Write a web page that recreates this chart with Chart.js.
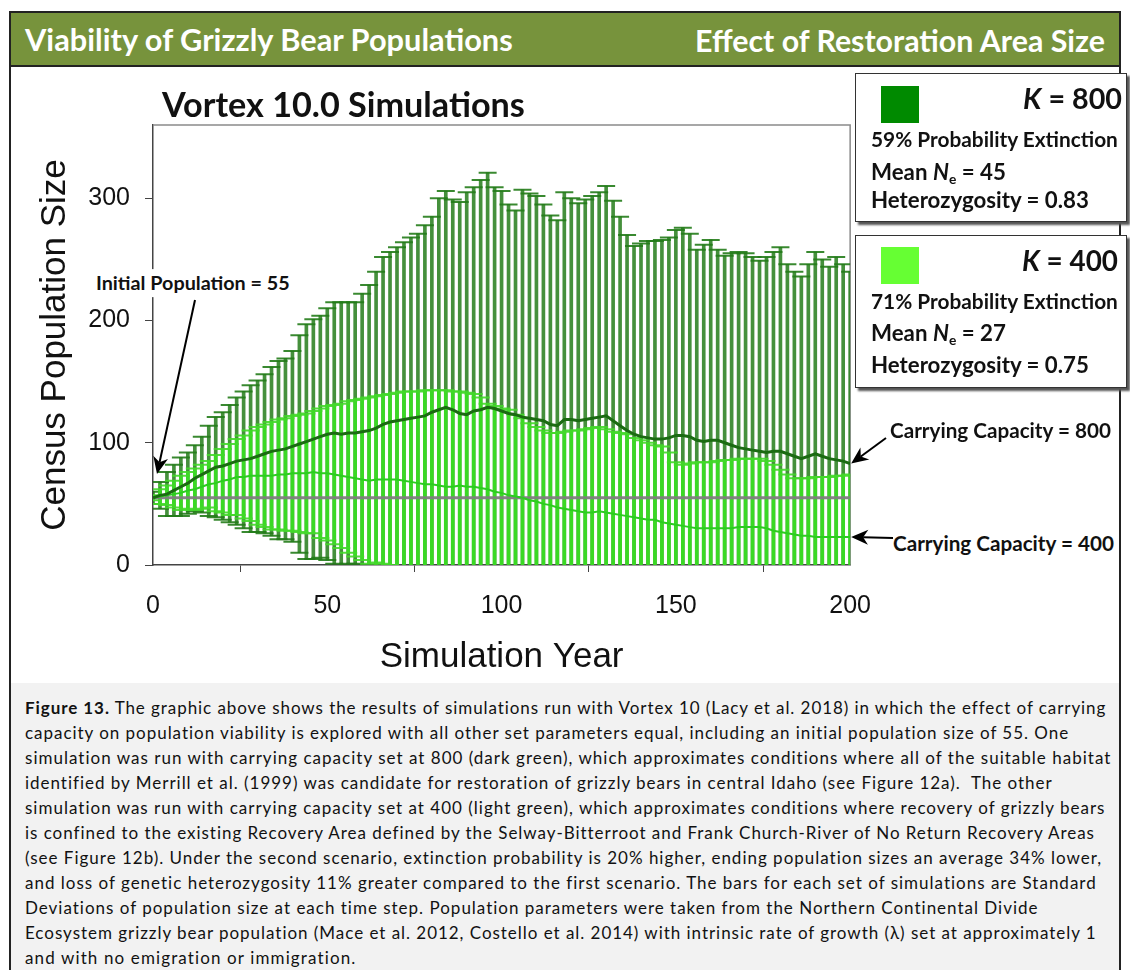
<!DOCTYPE html>
<html lang="en">
<head>
<meta charset="UTF-8">
<title>Viability of Grizzly Bear Populations</title>
<script src="https://cdn.jsdelivr.net/npm/chart.js"></script>
<style>
    body {
        margin: 0;
        width: 1130px;
        height: 970px;
        background: #fff;
        position: relative;
        overflow: hidden;
        font-family: Lato, "Open Sans", sans-serif;
    }
    .frame {
        position: absolute; left: 9px; top: 11px; width: 1112px; height: 980px;
        border: 2px solid #222; box-sizing: border-box;
    }
    .header {
        position: absolute; left: 9px; top: 11px; width: 1112px; height: 56px;
        background: #77933c; border: 2px solid #222; box-sizing: border-box; z-index: 2;
    }
    .caption-bg {
        position: absolute; left: 11px; top: 683px; width: 1108px; height: 290px;
        background: #f2f2f2;
    }
    .t {
        position: absolute; white-space: pre; line-height: 1;
        transform: translateY(-50%); z-index: 5; color: #111;
    }
    .b { font-weight: bold; }
    .white { color: #fff; }
    .cap { font-size: 17px; color: #111; }
    #chartBox {
        position: absolute; left: 0; top: 66px; width: 890px; height: 617px; z-index: 1;
    }
    .legend {
        position: absolute; left: 855px; width: 272px; background: #fff;
        border: 1.5px solid #333; box-sizing: border-box; z-index: 3;
        box-shadow: 3px 3px 2px #555;
    }
    .swatch { position: absolute; width: 38px; height: 37px; z-index: 5; }
    sub { font-size: 0.62em; vertical-align: -0.28em; line-height: 0; }
    #arrows { position: absolute; left: 0; top: 0; z-index: 6; pointer-events: none; }
    .initLabel { background: #fff; padding: 4px 6px; z-index: 4; }
</style>
</head>
<body>

<div class="frame"></div>
<div class="header"></div>
<div class="t b white" data-w="488" style="left:25px; top:40px; font-size:27px; z-index:6;">Viability of Grizzly Bear Populations</div>
<div class="t b white" data-w="410" style="left:695px; top:40px; font-size:27px; z-index:6;">Effect of Restoration Area Size</div>

<div id="chartBox"><canvas id="popChart"></canvas></div>

<div class="t b" data-w="363" style="left:162px; top:104px; font-size:28px;">Vortex 10.0 Simulations</div>
<div class="t b initLabel" data-w="207" style="left:90px; top:283px; font-size:18px;">Initial Population = 55</div>
<div class="t b" data-w="221" style="left:890px; top:430px; font-size:19px;">Carrying Capacity = 800</div>
<div class="t b" data-w="221" style="left:893px; top:543px; font-size:19px;">Carrying Capacity = 400</div>

<div class="legend" style="top:73px; height:149px;"></div>
<div class="swatch" style="left:881px; top:86px; background:#008a00;"></div>
<div class="t b" data-w="99" style="left:1023px; top:98px; font-size:30px;"><i>K</i> = 800</div>
<div class="t b" data-w="247" style="left:871px; top:139px; font-size:19px;">59% Probability Extinction</div>
<div class="t b" data-w="135" style="left:871px; top:172px; font-size:20px;">Mean <i>N</i><sub>e</sub> = 45</div>
<div class="t b" data-w="218" style="left:871px; top:200px; font-size:20px;">Heterozygosity = 0.83</div>

<div class="legend" style="top:235px; height:153px;"></div>
<div class="swatch" style="left:881px; top:247px; background:#66ff33;"></div>
<div class="t b" data-w="96" style="left:1022px; top:261px; font-size:30px;"><i>K</i> = 400</div>
<div class="t b" data-w="247" style="left:871px; top:301px; font-size:19px;">71% Probability Extinction</div>
<div class="t b" data-w="135" style="left:871px; top:333px; font-size:20px;">Mean <i>N</i><sub>e</sub> = 27</div>
<div class="t b" data-w="218" style="left:871px; top:365px; font-size:20px;">Heterozygosity = 0.75</div>

<div class="caption-bg"></div>
<div class="t cap" data-ls="1081" style="left:25px; top:707px;"><b>Figure 13.</b> The graphic above shows the results of simulations run with Vortex 10 (Lacy et al. 2018) in which the effect of carrying</div>
<div class="t cap" data-ls="1045" style="left:25px; top:732px;">capacity on population viability is explored with all other set parameters equal, including an initial population size of 55. One</div>
<div class="t cap" data-ls="1087" style="left:25px; top:757px;">simulation was run with carrying capacity set at 800 (dark green), which approximates conditions where all of the suitable habitat</div>
<div class="t cap" data-ls="1028" style="left:25px; top:782px;">identified by Merrill et al. (1999) was candidate for restoration of grizzly bears in central Idaho (see Figure 12a).  The other</div>
<div class="t cap" data-ls="1081" style="left:25px; top:807px;">simulation was run with carrying capacity set at 400 (light green), which approximates conditions where recovery of grizzly bears</div>
<div class="t cap" data-ls="1069" style="left:25px; top:832px;">is confined to the existing Recovery Area defined by the Selway-Bitterroot and Frank Church-River of No Return Recovery Areas</div>
<div class="t cap" data-ls="1078" style="left:25px; top:857px;">(see Figure 12b). Under the second scenario, extinction probability is 20% higher, ending population sizes an average 34% lower,</div>
<div class="t cap" data-ls="1072" style="left:25px; top:882px;">and loss of genetic heterozygosity 11% greater compared to the first scenario. The bars for each set of simulations are Standard</div>
<div class="t cap" data-ls="1015" style="left:25px; top:907px;">Deviations of population size at each time step. Population parameters were taken from the Northern Continental Divide</div>
<div class="t cap" data-ls="1072" style="left:25px; top:932px;">Ecosystem grizzly bear population (Mace et al. 2012, Costello et al. 2014) with intrinsic rate of growth (λ) set at approximately 1</div>
<div class="t cap" data-ls="332" style="left:25px; top:957px;">and with no emigration or immigration.</div>

<svg id="arrows" width="1130" height="970"></svg>

<script>
    // simulation years (every 2nd time step)
    const years = [];
    for (let t = 0; t <= 200; t += 2) years.push(t);

    // K = 800 (dark green): mean population and standard deviation
    const mean800 = [
        55, 57, 58, 61, 64, 67, 71, 74, 77, 80,
        81, 83, 85, 86, 87, 89, 91, 93, 94, 95,
        97, 99, 101, 103, 105, 107, 108, 107, 108, 108,
        109, 110, 112, 115, 117, 118, 119, 120, 121, 122,
        125, 127, 129, 127, 124, 123, 126, 127, 129, 128,
        126, 124, 123, 121, 120, 119, 118, 115, 114, 119,
        119, 118, 119, 120, 121, 122, 118, 114, 110, 107,
        105, 104, 103, 103, 104, 106, 106, 105, 102, 101,
        102, 102, 100, 98, 96, 95, 94, 93, 92, 93,
        93, 91, 89, 87, 89, 91, 89, 87, 86, 85,
        83
    ];
    const sd800 = [
        5, 11, 18, 21, 24, 25, 27, 31, 37, 41,
        44, 48, 52, 56, 60, 62, 65, 69, 73, 74,
        78, 89, 96, 98, 99, 103, 107, 108, 107, 107,
        113, 119, 128, 137, 139, 142, 145, 148, 150, 156,
        160, 173, 177, 172, 173, 182, 183, 188, 192, 181,
        180, 171, 167, 186, 184, 183, 177, 171, 168, 186,
        181, 178, 180, 182, 184, 188, 180, 171, 160, 154,
        158, 161, 162, 163, 164, 168, 170, 166, 156, 161,
        164, 156, 153, 157, 160, 160, 158, 156, 160, 163,
        167, 155, 151, 149, 157, 165, 161, 157, 166, 161,
        157
    ];

    // K = 400 (light green): mean population and standard deviation
    const mean400 = [
        55, 56, 57, 58, 59, 61, 62, 64, 66, 67,
        69, 70, 72, 72, 73, 73, 73, 73, 74, 74,
        75, 75, 75, 76, 75, 75, 74, 73, 72, 71,
        70, 69, 70, 70, 70, 70, 69, 68, 67, 66,
        66, 65, 64, 64, 65, 64, 64, 63, 62, 60,
        59, 57, 56, 55, 53, 52, 50, 49, 47, 46,
        45, 44, 43, 43, 44, 43, 42, 41, 40, 39,
        38, 37, 37, 35, 34, 33, 32, 31, 30, 30,
        30, 30, 30, 30, 31, 31, 31, 31, 30, 28,
        27, 26, 25, 24, 24, 23, 23, 23, 23, 23,
        23
    ];
    const sd400 = [
        2, 6, 8, 11, 14, 15, 17, 18, 19, 23,
        26, 29, 31, 34, 37, 40, 42, 44, 45, 46,
        47, 48, 49, 50, 53, 55, 57, 59, 62, 64,
        66, 68, 68, 69, 70, 71, 73, 74, 75, 77,
        77, 78, 79, 78, 77, 77, 76, 74, 70, 70,
        69, 70, 67, 65, 63, 61, 60, 59, 61, 63,
        65, 66, 68, 69, 69, 68, 67, 67, 67, 65,
        64, 63, 61, 62, 58, 51, 50, 52, 54, 54,
        54, 55, 56, 56, 56, 56, 56, 56, 55, 54,
        51, 48, 46, 47, 47, 49, 49, 49, 50, 50,
        51
    ];

    const initialPop = 55;
    const xTicks = [0, 50, 100, 150, 200];
    const yTicks = [0, 100, 200, 300];

    function barData(mean, sd) {
        return years.map((t, i) => ({ x: t, y: [mean[i] - sd[i], mean[i] + sd[i]] }));
    }
    function capData(mean, sd) {
        const out = [];
        years.forEach((t, i) => {
            out.push({ x: t, y: mean[i] + sd[i] });
            out.push({ x: t, y: mean[i] - sd[i] });
        });
        return out;
    }
    function lineData(mean) {
        return years.map((t, i) => ({ x: t, y: mean[i] }));
    }

    // grey frame on top and right of the plot
    const plotFrame = {
        id: 'plotFrame',
        beforeDatasetsDraw(chart) {
            const a = chart.chartArea, g = chart.ctx;
            g.save();
            g.strokeStyle = '#8a8a8a';
            g.lineWidth = 1.5;
            g.beginPath();
            g.moveTo(a.left, a.top);
            g.lineTo(a.right, a.top);
            g.lineTo(a.right, a.bottom);
            g.stroke();
            g.restore();
        }
    };

    Chart.defaults.font.family = '"Liberation Sans", Arial, sans-serif';
    Chart.defaults.color = '#111';

    const chart = new Chart(document.getElementById('popChart'), {
        type: 'bar',
        data: {
            datasets: [
                { type: 'bar', data: barData(mean800, sd800), backgroundColor: 'rgba(36,124,26,0.85)',
                  barThickness: 3, grouped: false, order: 10 },
                { type: 'line', data: capData(mean800, sd800), showLine: false, pointStyle: 'line',
                  pointRadius: 9, borderColor: 'rgba(36,124,26,0.9)', borderWidth: 2, order: 9 },
                { type: 'bar', data: barData(mean400, sd400), backgroundColor: 'rgba(58,228,34,0.88)',
                  barThickness: 3, grouped: false, order: 8 },
                { type: 'line', data: capData(mean400, sd400), showLine: false, pointStyle: 'line',
                  pointRadius: 9, borderColor: 'rgba(66,216,42,0.9)', borderWidth: 2, order: 7 },
                { type: 'line', data: [{ x: 0, y: initialPop }, { x: 200, y: initialPop }],
                  borderColor: 'rgba(128,128,128,0.95)', borderWidth: 3, pointRadius: 0, order: 5 },
                { type: 'line', data: lineData(mean400), borderColor: '#2ccc20', borderWidth: 2,
                  pointRadius: 0, order: 4 },
                { type: 'line', data: lineData(mean800), borderColor: '#1b6b12', borderWidth: 3,
                  pointRadius: 0, order: 3 }
            ]
        },
        options: {
            responsive: true,
            maintainAspectRatio: false,
            animation: false,
            events: [],
            layout: { padding: { top: 59, right: 17, left: 0, bottom: 0 } },
            plugins: { legend: { display: false }, tooltip: { enabled: false } },
            scales: {
                x: {
                    type: 'linear', min: 0, max: 200, offset: false,
                    afterFit(s) { s.height = 118; },
                    afterBuildTicks(s) { s.ticks = xTicks.map(v => ({ value: v })); },
                    grid: { drawOnChartArea: false, drawTicks: true, tickLength: 7, color: '#444' },
                    border: { color: '#444', width: 1.5 },
                    ticks: { font: { size: 25 }, padding: 19, maxRotation: 0 },
                    title: { display: true, text: 'Simulation Year', font: { size: 35 },
                             padding: { top: 0, bottom: 5 } }
                },
                y: {
                    min: 0, max: 360,
                    afterFit(s) { s.width = 153; },
                    afterBuildTicks(s) { s.ticks = yTicks.map(v => ({ value: v })); },
                    grid: { drawOnChartArea: false, drawTicks: true, tickLength: 8, color: '#444' },
                    border: { color: '#444', width: 1.5 },
                    ticks: { font: { size: 25 }, padding: 15 },
                    title: { display: true, text: 'Census Population Size', font: { size: 35 },
                             padding: { top: 34, bottom: 0 } }
                }
            }
        },
        plugins: [plotFrame]
    });

    // fit text widths
    document.querySelectorAll('[data-w]').forEach(el => {
        const r = el.getBoundingClientRect().width;
        const fs = parseFloat(getComputedStyle(el).fontSize);
        el.style.fontSize = (fs * (+el.dataset.w) / r) + 'px';
    });
    document.querySelectorAll('[data-ls]').forEach(el => {
        const r = el.getBoundingClientRect().width;
        const n = el.textContent.length;
        el.style.letterSpacing = (((+el.dataset.ls) - r) / n) + 'px';
    });

    // annotation arrows
    const svg = document.getElementById('arrows');
    const NS = 'http://www.w3.org/2000/svg';
    function arrow(x1, y1, x2, y2) {
        const dx = x2 - x1, dy = y2 - y1, L = Math.hypot(dx, dy);
        const ux = dx / L, uy = dy / L, hl = 17, hw = 7.5;
        const bx = x2 - ux * hl, by = y2 - uy * hl;
        const line = document.createElementNS(NS, 'line');
        line.setAttribute('x1', x1); line.setAttribute('y1', y1);
        line.setAttribute('x2', bx + ux * 5); line.setAttribute('y2', by + uy * 5);
        line.setAttribute('stroke', '#000'); line.setAttribute('stroke-width', 2);
        svg.appendChild(line);
        const head = document.createElementNS(NS, 'polygon');
        const pts = [
            [x2, y2],
            [bx - uy * hw, by + ux * hw],
            [bx + ux * 5, by + uy * 5],
            [bx + uy * hw, by - ux * hw]
        ];
        head.setAttribute('points', pts.map(p => p.join(',')).join(' '));
        head.setAttribute('fill', '#000');
        svg.appendChild(head);
    }
    const box = document.getElementById('chartBox').getBoundingClientRect();
    const xs = chart.scales.x, ys = chart.scales.y;
    const last = years.length - 1;
    arrow(195, 300, 157, 474);
    arrow(886, 438, box.left + xs.getPixelForValue(200) + 1, box.top + ys.getPixelForValue(mean800[last]));
    arrow(893, 538, box.left + xs.getPixelForValue(200) + 1, box.top + ys.getPixelForValue(mean400[last]));
</script>

</body>
</html>
